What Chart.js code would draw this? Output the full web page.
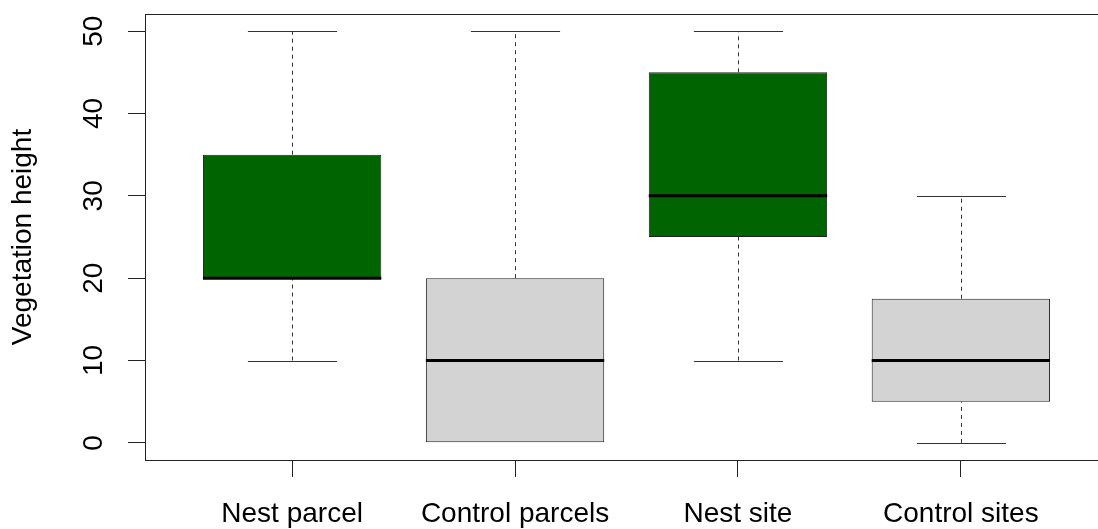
<!DOCTYPE html>
<html>
<head>
<meta charset="utf-8">
<script src="https://cdn.jsdelivr.net/npm/chart.js@4"></script>
<style>
  html, body { margin: 0; padding: 0; background: #fff; overflow: hidden; }
  #wrap { width: 1098px; height: 529px; overflow: hidden; position: relative; }
  canvas { display: block; }
</style>
</head>
<body>
<!-- the plot frame runs a little past the right edge, so the canvas is wider than the view -->
<div id="wrap"><canvas id="chart-veg-height" width="1115" height="529"></canvas></div>
<script>
// Vegetation height by plot type (box-and-whisker summary)
const categories = ["Nest parcel", "Control parcels", "Nest site", "Control sites"];
const lowerWhisker = [10, 0, 10, 0];
const lowerQuartile = [20, 0, 25, 5];
const medians = [20, 10, 30, 10];
const upperQuartile = [35, 20, 45, 17.5];
const upperWhisker = [50, 50, 50, 30];
const yTicks = [0, 10, 20, 30, 40, 50];

const boxColors = ["#006400", "#D3D3D3", "#006400", "#D3D3D3"];
const FONT = "'Liberation Sans', Arial, sans-serif";

// whiskers go under the boxes, medians on top, frame last
const boxPlotExtras = {
  id: "boxPlotExtras",
  beforeDatasetsDraw(chart) {
    const ctx = chart.ctx;
    const y = chart.scales.y;
    const meta = chart.getDatasetMeta(0);
    ctx.save();
    ctx.strokeStyle = "#333";
    ctx.lineWidth = 1;
    meta.data.forEach((bar, i) => {
      const cx = Math.round(bar.x) + 0.5;
      const half = bar.width / 4;
      const segs = [[lowerWhisker[i], lowerQuartile[i]], [upperQuartile[i], upperWhisker[i]]];
      segs.forEach(([a, b], k) => {
        if (a === b) return; // whisker collapses onto the box edge
        ctx.setLineDash([4, 4]);
        ctx.beginPath();
        ctx.moveTo(cx, y.getPixelForValue(a));
        ctx.lineTo(cx, y.getPixelForValue(b));
        ctx.stroke();
        // staple at the whisker end
        ctx.setLineDash([]);
        const py = Math.round(y.getPixelForValue(k === 0 ? a : b)) + 0.5;
        ctx.beginPath();
        ctx.moveTo(cx - half, py);
        ctx.lineTo(cx + half, py);
        ctx.stroke();
      });
    });
    ctx.restore();
  },
  afterDatasetsDraw(chart) {
    const ctx = chart.ctx;
    const y = chart.scales.y;
    const meta = chart.getDatasetMeta(0);
    ctx.save();
    ctx.strokeStyle = "#000";
    ctx.lineWidth = 3;
    meta.data.forEach((bar, i) => {
      const py = y.getPixelForValue(medians[i]);
      ctx.beginPath();
      ctx.moveTo(bar.x - bar.width / 2, py);
      ctx.lineTo(bar.x + bar.width / 2, py);
      ctx.stroke();
    });
    ctx.restore();
  },
  afterDraw(chart) {
    const {left, top, right, bottom} = chart.chartArea;
    const ctx = chart.ctx;
    ctx.save();
    ctx.strokeStyle = "#222";
    ctx.lineWidth = 1;
    ctx.strokeRect(Math.round(left) + 0.5, Math.round(top) + 0.5,
      Math.round(right - left), Math.round(bottom - top));
    ctx.restore();
  }
};

const ctx = document.getElementById("chart-veg-height").getContext("2d");
new Chart(ctx, {
  type: "bar",
  data: {
    datasets: [{
      data: categories.map((c, i) => ({ x: i + 1, y: [lowerQuartile[i], upperQuartile[i]] })),
      backgroundColor: boxColors,
      borderColor: "#222",
      borderWidth: 1,
      borderSkipped: false,
      barPercentage: 0.8,
      categoryPercentage: 1
    }]
  },
  options: {
    responsive: false,
    animation: false,
    devicePixelRatio: 1,
    layout: { padding: { top: 14, right: 7, left: 0, bottom: 0 } },
    plugins: {
      legend: { display: false },
      tooltip: { enabled: false }
    },
    scales: {
      x: {
        type: "linear",
        min: 0.34,
        max: 4.66,
        offset: false,
        afterBuildTicks: scale => { scale.ticks = categories.map((c, i) => ({ value: i + 1 })); },
        afterFit: scale => {
          scale.height = 69;
          scale.paddingLeft = 0;
          scale.paddingRight = 0;
        },
        border: { display: false },
        grid: { offset: false, drawOnChartArea: false, drawTicks: true, tickLength: 17, color: "#222" },
        ticks: {
          color: "#000",
          font: { family: FONT, size: 28 },
          padding: 20,
          maxRotation: 0,
          autoSkip: false,
          callback: value => categories[value - 1]
        }
      },
      y: {
        min: -2.08,
        max: 52.08,
        afterBuildTicks: scale => { scale.ticks = yTicks.map(v => ({ value: v })); },
        afterFit: scale => {
          scale.width = 145;
          scale.paddingTop = 0;
          scale.paddingBottom = 0;
        },
        border: { display: false },
        grid: { drawOnChartArea: false, drawTicks: true, tickLength: 17, color: "#222" },
        ticks: {
          color: "#000",
          font: { family: FONT, size: 28 },
          minRotation: 90,
          maxRotation: 90,
          crossAlign: "center",
          padding: 18,
          autoSkip: false
        },
        title: {
          display: true,
          text: "Vegetation height",
          color: "#000",
          font: { family: FONT, size: 28 },
          padding: { top: 6, bottom: 0 }
        }
      }
    }
  },
  plugins: [boxPlotExtras]
});
</script>
</body>
</html>
